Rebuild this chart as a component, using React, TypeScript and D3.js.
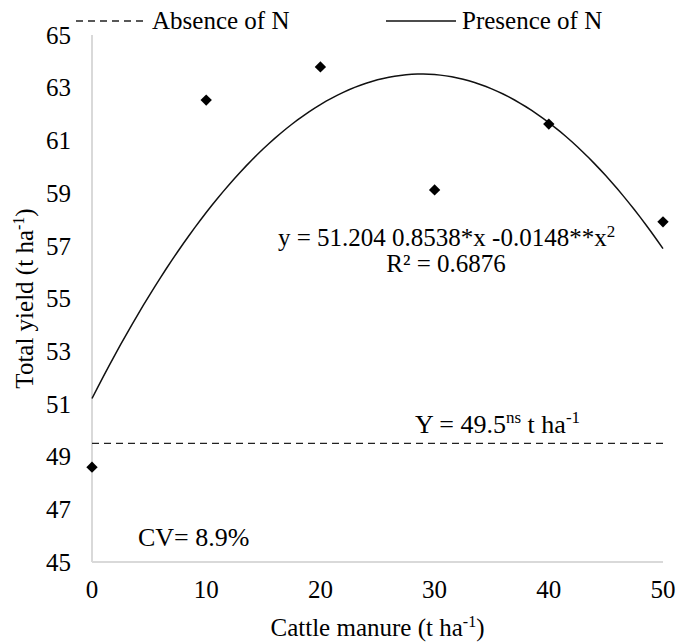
import * as d3 from "d3";
import { useEffect, useRef } from "react";

// cattle manure doses (t ha-1)
const doses = [0, 10, 20, 30, 40, 50];
// observed total yield with N (t ha-1)
const yieldValues = [48.6, 62.53, 63.79, 59.12, 61.62, 57.91];
// quadratic fit shown on the chart: a + b*x + c*x^2
const fitCoef = [51.204, 0.8538, -0.0148];
// mean without N
const absenceMean = 49.5;
const yTicks = [45, 47, 49, 51, 53, 55, 57, 59, 61, 63, 65];
const xTicks = [0, 10, 20, 30, 40, 50];

const W = 691;
const H = 644;
const FONT = "Liberation Serif, Times New Roman, Times, serif";

const App = () => {
  const ref = useRef<SVGSVGElement>(null);

  useEffect(() => {
    const svg = d3.select(ref.current);
    svg.selectAll("*").remove();

    const x = d3.scaleLinear().domain([0, 50]).range([92, 663]);
    const y = d3.scaleLinear().domain([45, 65]).range([562, 35]);

    const txt = (sel: any, size: number) =>
      sel.attr("font-family", FONT).attr("font-size", size).attr("fill", "#000");

    // axes lines (light grey, no ticks)
    svg
      .append("line")
      .attr("x1", x(0))
      .attr("x2", x(0))
      .attr("y1", y(65))
      .attr("y2", y(45))
      .attr("stroke", "#d9d9d9")
      .attr("stroke-width", 2);
    svg
      .append("line")
      .attr("x1", x(0))
      .attr("x2", x(50))
      .attr("y1", y(45))
      .attr("y2", y(45))
      .attr("stroke", "#d9d9d9")
      .attr("stroke-width", 2);

    // tick labels
    txt(
      svg
        .selectAll(".ytick")
        .data(yTicks)
        .enter()
        .append("text")
        .attr("x", 71)
        .attr("y", (d) => y(d))
        .attr("dy", "0.35em")
        .attr("text-anchor", "end"),
      25
    ).text((d) => d);

    txt(
      svg
        .selectAll(".xtick")
        .data(xTicks)
        .enter()
        .append("text")
        .attr("x", (d) => x(d))
        .attr("y", 598)
        .attr("text-anchor", "middle"),
      25
    ).text((d) => d);

    // axis titles
    const xt = txt(
      svg
        .append("text")
        .attr("x", (x(0) + x(50)) / 2)
        .attr("y", 636)
        .attr("text-anchor", "middle"),
      25
    );
    xt.append("tspan").text("Cattle manure (t ha");
    xt.append("tspan").attr("dy", -9).attr("font-size", 16).text("-1");
    xt.append("tspan").attr("dy", 9).text(")");

    const yt = txt(
      svg
        .append("text")
        .attr("transform", `translate(33,${(y(45) + y(65)) / 2}) rotate(-90)`)
        .attr("text-anchor", "middle"),
      25
    );
    yt.append("tspan").text("Total yield (t ha");
    yt.append("tspan").attr("dy", -9).attr("font-size", 16).text("-1");
    yt.append("tspan").attr("dy", 9).text(")");

    // dashed line: absence of N
    svg
      .append("line")
      .attr("x1", x(0))
      .attr("x2", x(50))
      .attr("y1", y(absenceMean))
      .attr("y2", y(absenceMean))
      .attr("stroke", "#222")
      .attr("stroke-width", 1.3)
      .attr("stroke-dasharray", "7,5");

    // fitted curve: presence of N
    const xs = d3.range(0, 50.01, 0.5);
    const line = d3
      .line<number>()
      .x((d) => x(d))
      .y((d) => y(fitCoef[0] + fitCoef[1] * d + fitCoef[2] * d * d));
    svg
      .append("path")
      .attr("d", line(xs))
      .attr("fill", "none")
      .attr("stroke", "#111")
      .attr("stroke-width", 1.5);

    // observed points (diamonds)
    const diamond = d3.symbol().type(d3.symbolDiamond2).size(82);
    svg
      .selectAll(".pt")
      .data(doses)
      .enter()
      .append("path")
      .attr("d", diamond())
      .attr("transform", (d, i) => `translate(${x(d)},${y(yieldValues[i])})`)
      .attr("fill", "#000");

    // equation
    const eq = txt(svg.append("text").attr("x", 278).attr("y", 246), 25);
    eq.append("tspan").text("y = 51.204 0.8538*x -0.0148**x");
    eq.append("tspan").attr("dy", -9).attr("font-size", 17).text("2");
    txt(
      svg.append("text").attr("x", 446).attr("y", 272).attr("text-anchor", "middle"),
      25
    ).text("R² = 0.6876");

    const ym = txt(svg.append("text").attr("x", 415).attr("y", 433), 26);
    ym.append("tspan").text("Y = 49.5");
    ym.append("tspan").attr("dy", -10).attr("font-size", 17).text("ns");
    ym.append("tspan").attr("dy", 10).text(" t ha");
    ym.append("tspan").attr("dy", -10).attr("font-size", 17).text("-1");

    txt(svg.append("text").attr("x", 138).attr("y", 546), 26).text("CV= 8.9%");

    // legend
    svg
      .append("line")
      .attr("x1", 76)
      .attr("x2", 145)
      .attr("y1", 21)
      .attr("y2", 21)
      .attr("stroke", "#222")
      .attr("stroke-width", 1.3)
      .attr("stroke-dasharray", "7,5");
    txt(svg.append("text").attr("x", 152).attr("y", 29), 25).text("Absence of N");
    svg
      .append("line")
      .attr("x1", 386)
      .attr("x2", 456)
      .attr("y1", 21)
      .attr("y2", 21)
      .attr("stroke", "#111")
      .attr("stroke-width", 1.5);
    txt(svg.append("text").attr("x", 462).attr("y", 29), 25).text("Presence of N");
  }, []);

  return (
    <svg
      ref={ref}
      width={W}
      height={H}
      style={{ position: "absolute", left: 0, top: 0, background: "#fff" }}
    />
  );
};

export default App;
